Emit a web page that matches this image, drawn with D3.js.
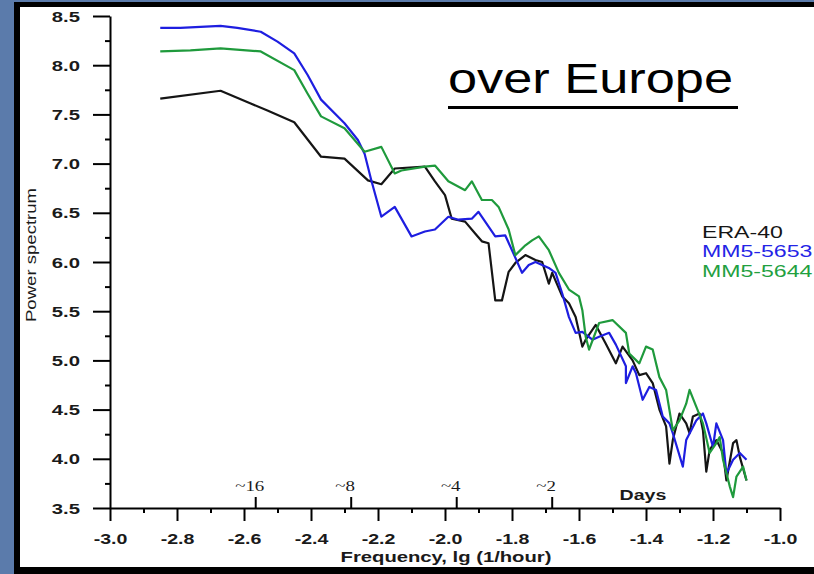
<!DOCTYPE html>
<html><head><meta charset="utf-8">
<script src="https://cdn.jsdelivr.net/npm/d3@7/dist/d3.min.js"></script>
<style>html,body{margin:0;padding:0;background:#fff;}svg{display:block;}</style>
</head><body>
<script>
// ---- data ----
const xTickValues = [-3.0,-2.8,-2.6,-2.4,-2.2,-2.0,-1.8,-1.6,-1.4,-1.2,-1.0];
const yTickValues = [3.5,4.0,4.5,5.0,5.5,6.0,6.5,7.0,7.5,8.0,8.5];
const dayLabels = ["~16","~8","~4","~2"];
const dayPositions = [-2.565,-2.28,-1.965,-1.68];
const seriesNames = ["ERA-40","MM5-5653","MM5-5644"];

const era40 = [[-2.85,7.66],[-2.67,7.74],[-2.58,7.61],[-2.53,7.54],[-2.45,7.42],[-2.37,7.07],[-2.30,7.05],[-2.23,6.83],[-2.19,6.79],[-2.15,6.95],[-2.06,6.97],[-2.03,6.82],[-2.00,6.68],[-1.98,6.44],[-1.94,6.41],[-1.91,6.29],[-1.89,6.21],[-1.87,6.19],[-1.85,5.61],[-1.83,5.61],[-1.81,5.90],[-1.79,5.99],[-1.76,6.07],[-1.73,6.02],[-1.71,6.00],[-1.69,5.78],[-1.68,5.89],[-1.65,5.65],[-1.63,5.58],[-1.61,5.44],[-1.59,5.14],[-1.58,5.21],[-1.55,5.36],[-1.52,5.17],[-1.49,4.97],[-1.47,5.14],[-1.44,5.00],[-1.42,4.85],[-1.40,4.87],[-1.38,4.77],[-1.36,4.50],[-1.34,4.33],[-1.33,3.95],[-1.32,4.19],[-1.30,4.46],[-1.28,4.36],[-1.27,4.26],[-1.26,4.43],[-1.24,4.46],[-1.23,4.29],[-1.22,3.87],[-1.21,4.09],[-1.19,4.19],[-1.17,4.06],[-1.16,3.78],[-1.14,4.16],[-1.13,4.19],[-1.12,4.02],[-1.10,3.78]];

const mm5653 = [[-2.85,8.38],[-2.79,8.38],[-2.67,8.40],[-2.62,8.38],[-2.55,8.34],[-2.50,8.24],[-2.45,8.12],[-2.41,7.90],[-2.37,7.65],[-2.30,7.41],[-2.26,7.24],[-2.24,7.10],[-2.22,6.83],[-2.19,6.46],[-2.15,6.56],[-2.10,6.26],[-2.06,6.31],[-2.03,6.33],[-1.99,6.46],[-1.96,6.43],[-1.92,6.44],[-1.90,6.51],[-1.85,6.26],[-1.82,6.27],[-1.80,6.12],[-1.77,5.89],[-1.75,5.97],[-1.73,6.00],[-1.69,5.94],[-1.67,5.89],[-1.65,5.68],[-1.63,5.44],[-1.61,5.28],[-1.59,5.29],[-1.56,5.21],[-1.54,5.24],[-1.51,5.28],[-1.49,5.16],[-1.46,4.94],[-1.46,4.77],[-1.44,4.94],[-1.43,4.87],[-1.41,4.60],[-1.39,4.73],[-1.37,4.70],[-1.35,4.43],[-1.33,4.36],[-1.32,4.26],[-1.29,3.92],[-1.28,4.19],[-1.25,4.39],[-1.23,4.46],[-1.22,4.36],[-1.20,4.12],[-1.19,4.36],[-1.17,4.19],[-1.16,3.85],[-1.14,3.99],[-1.12,4.06],[-1.10,3.99]];

const mm5644 = [[-2.85,8.14],[-2.76,8.15],[-2.67,8.17],[-2.55,8.14],[-2.45,7.95],[-2.41,7.71],[-2.37,7.48],[-2.30,7.36],[-2.24,7.12],[-2.19,7.17],[-2.15,6.90],[-2.13,6.93],[-2.06,6.97],[-2.03,6.98],[-1.99,6.82],[-1.94,6.73],[-1.92,6.82],[-1.89,6.63],[-1.86,6.63],[-1.84,6.56],[-1.81,6.33],[-1.79,6.07],[-1.76,6.17],[-1.74,6.22],[-1.72,6.26],[-1.69,6.12],[-1.66,5.89],[-1.63,5.72],[-1.60,5.65],[-1.59,5.51],[-1.58,5.24],[-1.57,5.11],[-1.54,5.38],[-1.50,5.41],[-1.46,5.28],[-1.45,5.07],[-1.42,4.97],[-1.40,5.14],[-1.38,5.11],[-1.36,4.83],[-1.34,4.70],[-1.32,4.29],[-1.30,4.39],[-1.28,4.56],[-1.27,4.70],[-1.25,4.53],[-1.23,4.36],[-1.21,4.06],[-1.19,4.16],[-1.18,4.22],[-1.17,3.99],[-1.15,3.72],[-1.14,3.61],[-1.13,3.82],[-1.11,3.92],[-1.10,3.78]];

const seriesData = [era40, mm5653, mm5644];
const seriesColors = ["#151515","#1e1ee0","#1f9a3c"];
const legendColors = ["#151515","#2424e6","#22a040"];

// ---- drawing ----
const W = 814, H = 574, SX = 1.4;
const svg = d3.select("body").append("svg").attr("width", W).attr("height", H);

// slide frame
svg.append("rect").attr("x",0).attr("y",0).attr("width",W).attr("height",H).attr("fill","#5b7bab");
svg.append("rect").attr("x",14).attr("y",2).attr("width",W-14).attr("height",H-2).attr("fill","#000");
svg.append("rect").attr("x",20).attr("y",7).attr("width",W-20).attr("height",560).attr("fill","#fff");

const x = d3.scaleLinear().domain([-3,-1]).range([110,780]);
const y = d3.scaleLinear().domain([3.5,8.5]).range([508,16]);

const labelColor = "#1a1a1a";
const font = "'Liberation Sans', Arial, sans-serif";

// minor ticks
const xMinor = d3.range(-2.9,-1.0,0.2).map(v=>+v.toFixed(1));
const yMinor = d3.range(3.75,8.5,0.5);
svg.append("g").attr("transform","translate(0,508)")
  .call(d3.axisBottom(x).tickValues(xMinor).tickSize(5).tickSizeOuter(0).tickFormat(""))
  .call(g=>g.select(".domain").remove())
  .call(g=>g.selectAll("line").attr("stroke","#000").attr("stroke-width",2));
svg.append("g").attr("transform","translate(110,0)")
  .call(d3.axisLeft(y).tickValues(yMinor).tickSize(5).tickSizeOuter(0).tickFormat(""))
  .call(g=>g.select(".domain").remove())
  .call(g=>g.selectAll("line").attr("stroke","#000").attr("stroke-width",2));

// major x axis
const gx = svg.append("g").attr("transform","translate(0,508)")
  .call(d3.axisBottom(x).tickValues(xTickValues).tickSize(13).tickSizeOuter(0).tickFormat(d3.format(".1f")));
gx.select(".domain").attr("stroke","#000").attr("stroke-width",2);
gx.selectAll("line").attr("stroke","#000").attr("stroke-width",2);
gx.selectAll("text").attr("y",36).attr("dy",0)
  .attr("transform",`scale(${SX},1)`)
  .attr("font-family",font).attr("font-weight","bold").attr("font-size",14).attr("fill",labelColor)
  .text(d=>d3.format(".1f")(d).replace("−","-"));

// major y axis
const gy = svg.append("g").attr("transform","translate(110,0)")
  .call(d3.axisLeft(y).tickValues(yTickValues).tickSize(17).tickSizeOuter(0).tickFormat(d3.format(".1f")));
gy.select(".domain").attr("stroke","#000").attr("stroke-width",2);
gy.selectAll("line").attr("stroke","#000").attr("stroke-width",2);
gy.selectAll("text").attr("x",-29/SX).attr("dy","0.36em")
  .attr("transform",`scale(1.45,1)`)
  .attr("font-family",font).attr("font-weight","bold").attr("font-size",14).attr("fill",labelColor);

// day markers
dayPositions.forEach((p,i)=>{
  svg.append("line").attr("x1",x(p)).attr("x2",x(p)).attr("y1",508).attr("y2",497)
    .attr("stroke","#000").attr("stroke-width",2);
  svg.append("text").attr("transform",`translate(${x(p)-6},491) scale(1.35,1)`)
    .attr("text-anchor","middle").attr("font-family","'Liberation Serif', 'Times New Roman', serif")
    .attr("font-size",14).attr("fill",labelColor).text(dayLabels[i]);
});
svg.append("text").attr("transform",`translate(643,500) scale(${SX},1)`)
  .attr("text-anchor","middle").attr("font-family",font).attr("font-weight","bold")
  .attr("font-size",14).attr("fill",labelColor).text("Days");

// axis titles
svg.append("text").attr("transform",`translate(446,562) scale(1.35,1)`)
  .attr("text-anchor","middle").attr("font-family",font).attr("font-weight","bold")
  .attr("font-size",15).attr("fill",labelColor).text("Frequency, lg (1/hour)");
svg.append("text").attr("transform","translate(36,255) rotate(-90)")
  .attr("text-anchor","middle").attr("font-family",font)
  .attr("font-size",15).attr("textLength",134).attr("lengthAdjust","spacingAndGlyphs")
  .attr("fill",labelColor).text("Power spectrum");

// lines
const line = d3.line().x(d=>x(d[0])).y(d=>y(d[1]));
seriesData.forEach((s,i)=>{
  svg.append("path").datum(s).attr("d",line).attr("fill","none")
    .attr("stroke",seriesColors[i]).attr("stroke-width",2.2).attr("stroke-linejoin","round");
});

// legend
const legendBase = [238,257,277];
seriesNames.forEach((n,i)=>{
  svg.append("text").attr("transform",`translate(702,${legendBase[i]}) scale(1.4,1)`)
    .attr("font-family",font).attr("font-size",16.5).attr("fill",legendColors[i]).text(n);
});

// title
svg.append("text").attr("x",448).attr("y",93).attr("font-family",font).attr("font-size",43)
  .attr("textLength",285).attr("lengthAdjust","spacingAndGlyphs").attr("fill","#000").text("over Europe");
svg.append("line").attr("x1",448).attr("x2",738).attr("y1",107.5).attr("y2",107.5)
  .attr("stroke","#000").attr("stroke-width",3);
</script>
</body></html>
